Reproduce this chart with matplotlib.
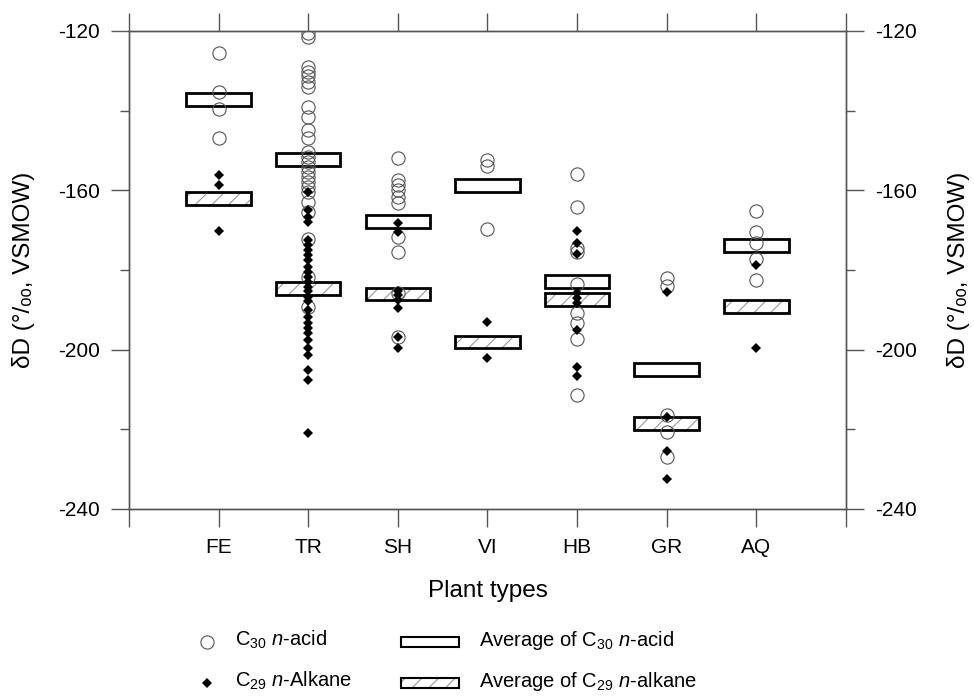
import numpy as np
import matplotlib
matplotlib.use('Agg')
import matplotlib.pyplot as plt
from matplotlib.patches import Rectangle

plt.rcParams['font.family'] = ['Liberation Sans', 'DejaVu Sans']
plt.rcParams['mathtext.fontset'] = 'custom'
plt.rcParams['mathtext.rm'] = 'Liberation Sans'
plt.rcParams['mathtext.it'] = 'Liberation Sans:italic'
plt.rcParams['hatch.linewidth'] = 0.8
plt.rcParams['axes.unicode_minus'] = False

# plant types
categories = ['FE', 'TR', 'SH', 'VI', 'HB', 'GR', 'AQ']

# C30 n-acid dD values per plant type
acid_fe = [-125.6, -135.2, -139.7, -146.9]
acid_tr = [-120.6, -121.6, -129.0, -130.2, -131.3, -132.7, -134.0, -139.0,
           -141.5, -144.9, -146.9, -150.3, -151.6, -152.8, -154.1, -155.3,
           -156.6, -157.8, -159.1, -160.3, -162.9, -165.4, -172.1, -181.7,
           -189.2]
acid_sh = [-151.8, -157.4, -158.7, -159.9, -161.6, -163.3, -171.6, -175.4,
           -185.9, -196.8]
acid_vi = [-152.4, -153.8, -169.8]
acid_hb = [-155.9, -164.1, -174.6, -175.4, -183.5, -190.9, -193.2, -197.4,
           -211.4]
acid_gr = [-181.9, -183.9, -216.4, -220.6, -227.0]
acid_aq = [-165.2, -170.5, -173.1, -177.3, -182.5]

# C29 n-alkane dD values per plant type
alk_fe = [-156.2, -158.7, -170.1]
alk_tr = [-160.3, -164.9, -166.6, -167.9, -172.5, -173.7, -175.0, -176.2,
          -177.5, -179.2, -180.4, -181.7, -182.9, -184.2, -185.4, -186.7,
          -187.9, -190.0, -191.7, -193.4, -194.6, -195.9, -197.6, -199.7,
          -201.3, -205.1, -207.6, -221.0]
alk_sh = [-168.3, -170.4, -185.2, -186.3, -187.5, -189.6, -196.9, -199.7]
alk_vi = [-193.0, -202.2]
alk_hb = [-170.2, -173.1, -176.0, -185.9, -187.1, -188.4, -195.1, -204.3,
          -206.6]
alk_gr = [-185.6, -217.0, -225.4, -232.5]
alk_aq = [-178.8, -199.5]

# averages
avg_acid = [-137.2, -152.3, -167.8, -158.8, -182.8, -205.0, -173.8]
avg_alk = [-162.0, -184.7, -186.0, -198.1, -187.4, -218.5, -189.1]

acid_all = [acid_fe, acid_tr, acid_sh, acid_vi, acid_hb, acid_gr, acid_aq]
alk_all = [alk_fe, alk_tr, alk_sh, alk_vi, alk_hb, alk_gr, alk_aq]

spine_col = '#555555'
box_w, box_h = 0.72, 3.2

fig = plt.figure(figsize=(9.74, 6.98), dpi=100)
ax = fig.add_axes([0.1324, 0.2708, 0.7361, 0.6848])
ax.set_xlim(0, 8)
ax.set_ylim(-240, -120)

# average boxes
for i, (va, vk) in enumerate(zip(avg_acid, avg_alk)):
    xc = i + 1
    ax.add_patch(Rectangle((xc - box_w / 2, va - box_h / 2), box_w, box_h,
                           facecolor='white', edgecolor='black', lw=2, zorder=2))
    ax.add_patch(Rectangle((xc - box_w / 2, vk - box_h / 2), box_w, box_h,
                           facecolor='white', edgecolor='#9a9a9a', hatch='//',
                           lw=0, zorder=2))
    ax.add_patch(Rectangle((xc - box_w / 2, vk - box_h / 2), box_w, box_h,
                           fill=False, edgecolor='black', lw=2, zorder=2.1))

# individual points
for i, (ac, al) in enumerate(zip(acid_all, alk_all)):
    ax.plot([i + 1] * len(ac), ac, 'o', mfc='none', mec=spine_col, mew=0.8,
            ms=9.5, zorder=3)
    ax.plot([i + 1] * len(al), al, 'D', color='black', mew=0, ms=5.2, zorder=4)

# axes styling
for s in ax.spines.values():
    s.set_color(spine_col)
    s.set_linewidth(1)

ax.set_xticks(range(9))
ax.set_xticklabels([''] + categories + [''])
ax.tick_params(axis='x', direction='out', length=13, width=1, color=spine_col,
               top=True, labelsize=15, pad=8)
ax.set_yticks([-240, -200, -160, -120])
ax.set_yticks([-220, -180, -140], minor=True)
ax.tick_params(axis='y', which='major', direction='out', length=13, width=1,
               color=spine_col, labelsize=15, pad=8)
ax.tick_params(axis='y', which='minor', direction='out', length=6.5, width=1,
               color=spine_col)

twin = ax.twinx()
twin.set_ylim(ax.get_ylim())
twin.set_yticks([-240, -200, -160, -120])
twin.set_yticks([-220, -180, -140], minor=True)
twin.tick_params(axis='y', which='major', direction='out', length=13, width=1,
                 color=spine_col, labelsize=15, pad=8)
twin.tick_params(axis='y', which='minor', direction='out', length=6.5, width=1,
                 color=spine_col)
for s in twin.spines.values():
    s.set_color(spine_col)
    s.set_linewidth(1)

ylab = 'δD (°/ₒₒ, VSMOW)'
ax.set_ylabel(ylab, fontsize=17.5, ha='center', va='center')
ax.yaxis.set_label_coords(-0.1464, 0.5)
twin.set_ylabel(ylab, fontsize=17.5, ha='center', va='center', rotation=90)
twin.yaxis.set_label_coords(1.1576, 0.5)
ax.set_xlabel('Plant types', fontsize=17.5, va='center')
ax.xaxis.set_label_coords(0.5, -0.172)

# legend drawn in pixel space
lax = fig.add_axes([0, 0, 1, 1])
lax.set_xlim(0, 974)
lax.set_ylim(698, 0)
lax.axis('off')

row1, row2 = 642, 683
lax.plot([207], [row1], 'o', mfc='none', mec=spine_col, mew=0.8, ms=9.5)
lax.plot([207], [row2], 'D', color='black', mew=0, ms=5.2)
lax.add_patch(Rectangle((401, row1 - 5), 58, 10, facecolor='white',
                        edgecolor='black', lw=1.5))
lax.add_patch(Rectangle((401, row2 - 5), 58, 10, facecolor='white',
                        edgecolor='#9a9a9a', hatch='//', lw=0))
lax.add_patch(Rectangle((401, row2 - 5), 58, 10, fill=False,
                        edgecolor='black', lw=1.5))

leg_fs = 14.5
lax.text(235, row1 + 4, r'C$_{\mathregular{30}}$ $\mathit{n}$-acid',
         fontsize=leg_fs, va='baseline')
lax.text(235, row2 + 4, r'C$_{\mathregular{29}}$ $\mathit{n}$-Alkane',
         fontsize=leg_fs, va='baseline')
lax.text(479, row1 + 4, r'Average of C$_{\mathregular{30}}$ $\mathit{n}$-acid',
         fontsize=leg_fs, va='baseline')
lax.text(479, row2 + 4, r'Average of C$_{\mathregular{29}}$ $\mathit{n}$-alkane',
         fontsize=leg_fs, va='baseline')

fig.savefig('out.png', dpi=100)
